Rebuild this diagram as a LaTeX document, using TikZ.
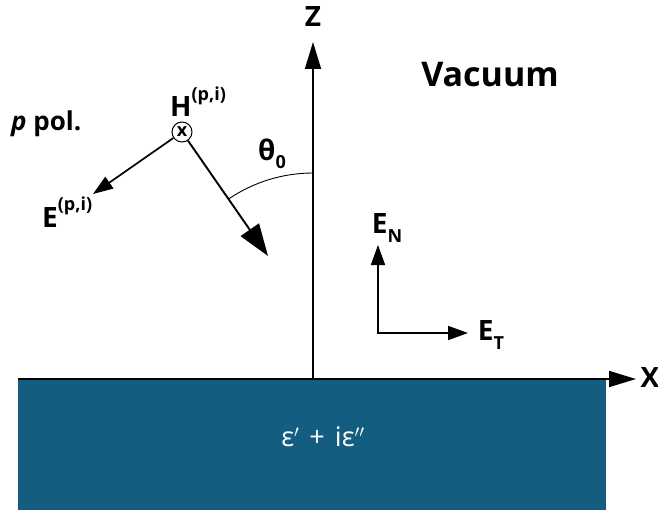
\documentclass[tikz,border=0pt]{standalone}
\usepackage{fontspec}
\setmainfont{Open Sans}
\usetikzlibrary{arrows.meta}
\definecolor{slab}{RGB}{19,94,128}
\newcommand{\mysup}[1]{\raisebox{0.6em}{\fontsize{18}{20}\selectfont #1}}
\newcommand{\mysub}[1]{\raisebox{-0.3em}{\fontsize{18}{20}\selectfont #1}}
\tikzset{
  lbl/.style={inner sep=0pt, font=\bfseries\fontsize{28}{32}\selectfont},
  axis/.style={line width=1.8pt, -{Triangle[length=27pt,width=16pt]}},
  vec/.style={line width=1.7pt, -{Triangle[length=20pt,width=14pt]}},
  bigvec/.style={line width=1.9pt, -{Triangle[length=32pt,width=22pt]}},
}
\begin{document}
\begin{tikzpicture}[x=1pt,y=-1pt]
\useasboundingbox (0,0) rectangle (658,516);
% slab
\fill[slab] (18,379) rectangle (606,510);
\node[inner sep=0pt, text=white, font=\fontsize{27}{30}\selectfont] (eps) at (323,437) {ε$'$\hspace{10pt}+\hspace{10pt}iε$''$};
% axes
\coordinate (o) at (313,379);
\coordinate (ztip) at (313,42);
\coordinate (xl) at (18,379);
\coordinate (xtip) at (636,379);
\draw[axis] (xl) -- (xtip);
\draw[axis] (o) -- (ztip);
\node[lbl] (zl) at (313,17) {Z};
\node[lbl] (xlab) at (650,378) {X};
% labels
\node[inner sep=0pt, font=\fontsize{34}{38}\selectfont\bfseries] (vac) at (490,75) {Vacuum};
\node[inner sep=0pt, font=\fontsize{26}{30}\selectfont\bfseries, anchor=base west] (pp) at (11,131) {\textit{p} pol.};
% H circle
\node[draw, circle, line width=1pt, minimum size=20pt, inner sep=0pt, font=\bfseries\fontsize{18}{20}\selectfont] (h) at (182,132) {x};
\node[lbl, anchor=base west] (hl) at (170,117) {H\mysup{(p,i)}};
\coordinate (etip) at (93,194);
\coordinate (ktip) at (268,256);
\draw[vec] (h) -- (etip);
\draw[bigvec] (h) -- (ktip);
\node[lbl, anchor=base west] (el) at (42,227) {E\mysup{(p,i)}};
% angle
\coordinate (arcs) at (313,173);
\draw[line width=0.9pt] (arcs) arc[start angle=-90, end angle=-124.4, radius=150];
\node[lbl] (th) at (272,154) {θ\mysub{0}};
% E_N, E_T
\coordinate (c) at (378,333);
\coordinate (ntip) at (378,245);
\coordinate (ttip) at (468,333);
\draw[vec, line cap=rect] (c) -- (ntip);
\draw[vec] (c) -- (ttip);
\node[lbl] (en) at (387,228) {E\mysub{N}};
\node[lbl] (et) at (491,335) {E\mysub{T}};
\end{tikzpicture}
\end{document}
